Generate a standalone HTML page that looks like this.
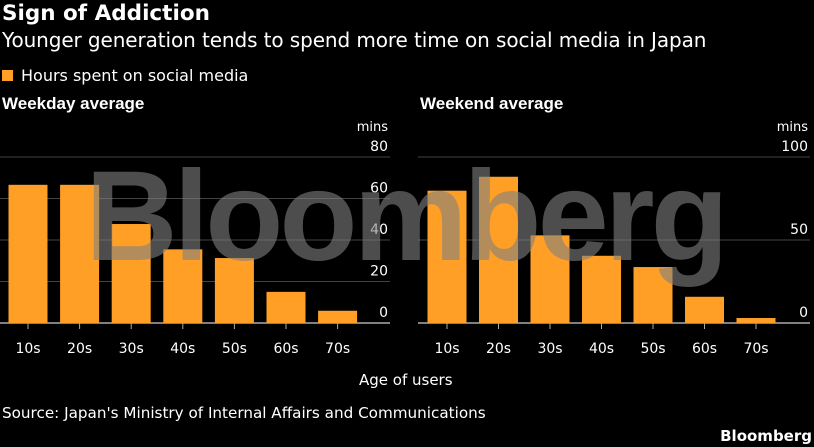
<!DOCTYPE html>
<html><head><meta charset="utf-8"><style>
body{margin:0;background:#000;width:814px;height:447px;overflow:hidden;font-family:"DejaVu Sans","Liberation Sans",sans-serif;color:#fff;position:relative}
.t{position:absolute;white-space:nowrap}
</style></head><body>
<div class="t" style="left:2px;top:1px;font-size:21.5px;font-weight:bold">Sign of Addiction</div>
<div class="t" style="left:2px;top:28px;font-size:20px;letter-spacing:-0.1px">Younger generation tends to spend more time on social media in Japan</div>
<div class="t" style="left:2px;top:66px;font-size:16px"><span style="display:inline-block;width:11px;height:11px;background:#ff9f26;margin-right:8px"></span>Hours spent on social media</div>
<div class="t" style="left:2px;top:94px;font-size:17px;font-weight:bold;font-family:'Liberation Sans',sans-serif">Weekday average</div>
<div class="t" style="left:420px;top:94px;font-size:17px;font-weight:bold;font-family:'Liberation Sans',sans-serif">Weekend average</div>
<svg id="c" width="814" height="447" style="position:absolute;left:0;top:0"></svg>
<div class="t" style="left:359px;top:371px;font-size:15px">Age of users</div>
<div class="t" style="left:2px;top:404px;font-size:15.2px">Source: Japan's Ministry of Internal Affairs and Communications</div>
<div class="t" style="right:2px;top:427px;font-size:15px;font-weight:bold">Bloomberg</div>
<script>
const categories=["10s","20s","30s","40s","50s","60s","70s"];
const weekdayValues=[66.6,66.6,47.7,35.5,31.3,15,5.9];
const weekendValues=[79.7,88.1,52.8,40.5,33.7,15.8,3];
const weekdayTicks=[0,20,40,60,80];
const weekendTicks=[0,50,100];
const svg=document.getElementById('c');
const NS='http://www.w3.org/2000/svg';
const FF='"DejaVu Sans","Liberation Sans",sans-serif';
function mk(tag,a,txt){const e=document.createElementNS(NS,tag);for(const k in a)e.setAttribute(k,a[k]);if(txt!=null)e.textContent=txt;svg.appendChild(e);return e;}
function panel(name,x0,x1,firstC,band,vals,ticks,max){
  const yb=323,yt=157;
  const y=v=>yb-(yb-yt)*v/max;
  const x=i=>firstC+band*i;
  ticks.forEach(t=>{
    const l=mk('line',{x1:x0,x2:x1,y1:y(t),y2:y(t),stroke:t===0?'#aaa':'#444','stroke-width':t===0?1.5:1});
    
    
    const tx=mk('text',{x:x1-2,y:y(t)-6,'text-anchor':'end','font-size':14,fill:'#fff','font-family':FF},String(t));
    
    
  });
  const u=mk('text',{x:x1-2,y:yt-26,'text-anchor':'end','font-size':13,fill:'#fff','font-family':FF},'mins');
  
  
  vals.forEach((v,i)=>{
    const r=mk('rect',{x:x(i)-19.5,y:y(v),width:39,height:yb-y(v),fill:'#ff9f26'});
    
    
    const tk=mk('line',{x1:x(i),x2:x(i),y1:yb,y2:yb+6,stroke:'#aaa'});
    
    
    const lb=mk('text',{x:x(i),y:yb+30,'text-anchor':'middle','font-size':14,fill:'#fff','font-family':FF},categories[i]);
    
    
  });
}
panel('weekday',0,390,28,51.6,weekdayValues,weekdayTicks,80);
panel('weekend',418,810,447,51.5,weekendValues,weekendTicks,100);
const w=mk('text',{x:405,y:260,'text-anchor':'middle','font-size':128,'font-weight':'bold',fill:'rgba(128,128,128,0.6)','letter-spacing':'-4','font-family':'"Liberation Sans",sans-serif'},'Bloomberg');


</script>
</body></html>
